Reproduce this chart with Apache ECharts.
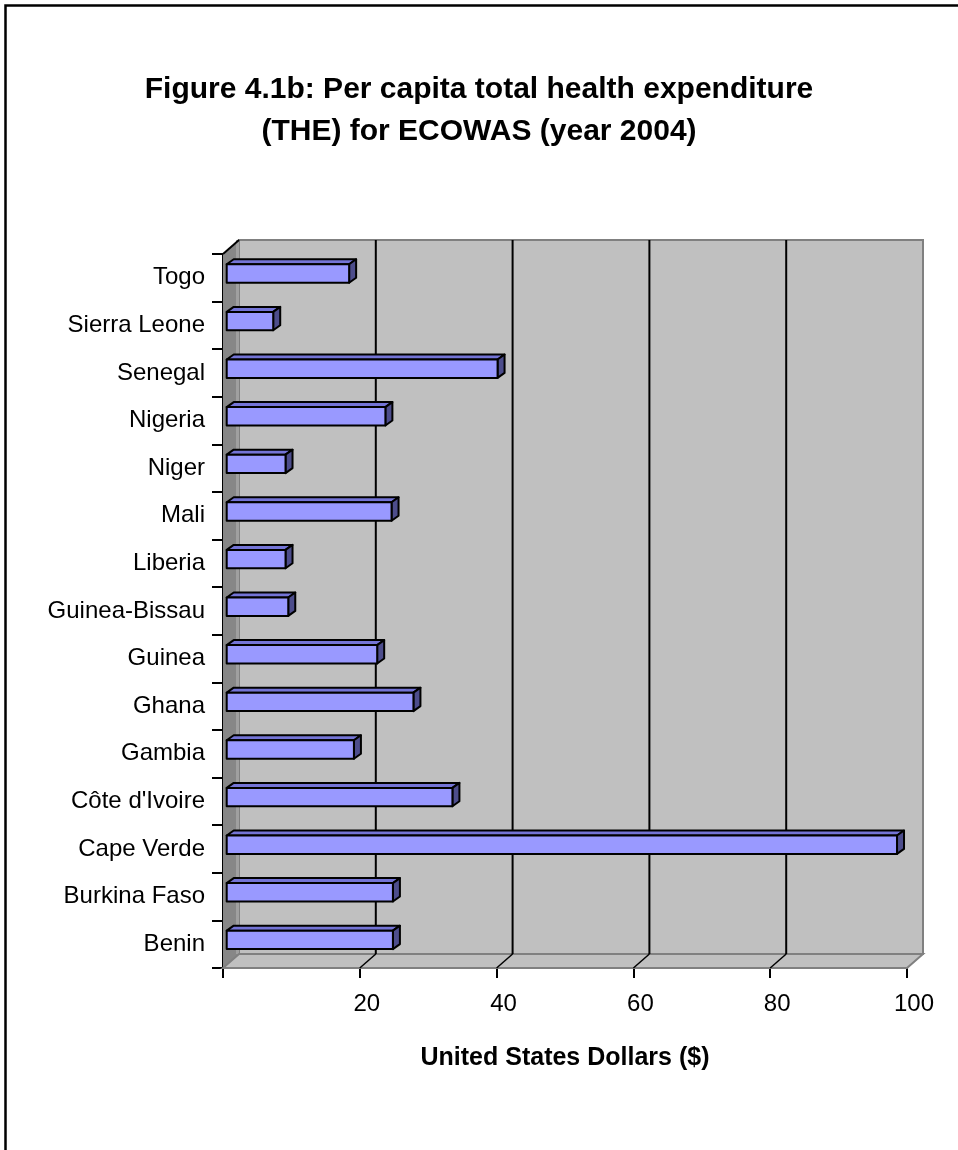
<!DOCTYPE html>
<html>
<head>
<meta charset="utf-8">
<script src="https://cdn.jsdelivr.net/npm/echarts@6/dist/echarts.min.js"></script>
<style>
html,body{margin:0;padding:0;background:#fff;}
#chart{width:958px;height:1150px;}
</style>
</head>
<body>
<div id="chart"></div>
<script>
// Data (bottom to top, as drawn)
const countries = ['Benin','Burkina Faso','Cape Verde',"Côte d'Ivoire",'Gambia','Ghana','Guinea','Guinea-Bissau','Liberia','Mali','Niger','Nigeria','Senegal','Sierra Leone','Togo'];
const theValues = [24.3, 24.3, 98.0, 33.0, 18.6, 27.3, 22.0, 9.0, 8.6, 24.1, 8.6, 23.2, 39.6, 6.8, 17.9];
const xTickValues = [20, 40, 60, 80];
const titleText = 'Figure 4.1b: Per capita total health expenditure\n(THE) for ECOWAS (year 2004)';
const xAxisTitle = 'United States Dollars ($)';

const FONT = '"Liberation Sans", Arial, sans-serif';
const WALL_DX = 16, WALL_DY = -14;
const BAR_DX = 7, BAR_DY = -5;

const chart = echarts.init(document.getElementById('chart'), null, {renderer: 'canvas'});

function renderWalls(params, api) {
  const cs = params.coordSys;
  const x0 = cs.x, x1 = cs.x + cs.width, y0 = cs.y, y1 = cs.y + cs.height;
  const dx = WALL_DX, dy = WALL_DY;
  const children = [];
  children.push({type: 'polygon', shape: {points: [[x0+dx, y0+dy],[x1+dx, y0+dy],[x1+dx, y1+dy],[x0+dx, y1+dy]]},
    style: {fill: '#C0C0C0', stroke: '#808080', lineWidth: 2}});
  children.push({type: 'polygon', shape: {points: [[x0, y0],[x0+dx, y0+dy],[x0+dx, y1+dy],[x0, y1]]},
    style: {fill: '#878787', stroke: null}});
  children.push({type: 'line', shape: {x1: x0+dx-1.5, y1: y0+dy, x2: x0+dx-1.5, y2: y1+dy},
    style: {stroke: '#A0A0A0', lineWidth: 3}});
  children.push({type: 'polygon', shape: {points: [[x0, y1],[x0+dx, y1+dy],[x1+dx, y1+dy],[x1, y1]]},
    style: {fill: '#C0C0C0', stroke: '#808080', lineWidth: 2}});
  children.push({type: 'line', shape: {x1: x0, y1: y0, x2: x0+dx, y2: y0+dy},
    style: {stroke: '#000', lineWidth: 2}});
  xTickValues.forEach(v => {
    const px = api.coord([v, 0])[0];
    children.push({type: 'line', shape: {x1: px+dx, y1: y0+dy, x2: px+dx, y2: y1+dy},
      style: {stroke: '#000', lineWidth: 2}});
    children.push({type: 'line', shape: {x1: px, y1: y1, x2: px+dx, y2: y1+dy},
      style: {stroke: '#000', lineWidth: 1.5}});
  });
  return {type: 'group', children: children};
}

function renderBar(params, api) {
  const v = api.value(0), idx = api.value(1);
  const c0 = api.coord([0, idx]);
  const cv = api.coord([v, idx]);
  const band = api.size([0, 1])[1];
  const shift = 3.7;
  const xl = c0[0] + shift, xr = cv[0] + shift;
  const yt = c0[1] - 0.284 * band, yb = c0[1] + 0.103 * band;
  const dx = BAR_DX, dy = BAR_DY;
  const stroke = {stroke: '#000', lineWidth: 2, lineJoin: 'round'};
  return {type: 'group', children: [
    {type: 'polygon', shape: {points: [[xl, yt],[xl+dx, yt+dy],[xr+dx, yt+dy],[xr, yt]]},
      style: Object.assign({fill: '#7474D6'}, stroke)},
    {type: 'polygon', shape: {points: [[xr, yt],[xr+dx, yt+dy],[xr+dx, yb+dy],[xr, yb]]},
      style: Object.assign({fill: '#4D4D8C'}, stroke)},
    {type: 'rect', shape: {x: xl, y: yt, width: xr - xl, height: yb - yt},
      style: Object.assign({fill: '#9999FF'}, stroke)}
  ]};
}

const option = {
  backgroundColor: '#fff',
  animation: false,
  title: {
    text: titleText,
    left: 'center',
    top: 64,
    textStyle: {fontFamily: FONT, fontSize: 30, fontWeight: 'bold', color: '#000', lineHeight: 42}
  },
  graphic: [{
    type: 'rect', left: 3, top: 3, shape: {x: 0, y: 0, width: 1000, height: 1200},
    style: {fill: null, stroke: '#000', lineWidth: 2.5}, z: 100
  }],
  grid: {left: 223, right: 51, top: 254, bottom: 182, containLabel: false},
  xAxis: {
    type: 'value', min: 0, max: 100, interval: 20,
    name: xAxisTitle, nameLocation: 'middle', nameGap: 78,
    nameTextStyle: {fontFamily: FONT, fontSize: 25, fontWeight: 'bold', color: '#000'},
    axisLine: {show: true, lineStyle: {color: '#000', width: 2}},
    axisTick: {show: true, inside: false, length: 10, lineStyle: {color: '#000', width: 2}},
    axisLabel: {fontFamily: FONT, fontSize: 24, color: '#000', margin: 24, padding: [0, 0, 0, 14],
      formatter: v => (v === 0 ? '' : String(v))},
    splitLine: {show: false}
  },
  yAxis: {
    type: 'category', data: countries, boundaryGap: true,
    axisLine: {show: true, lineStyle: {color: '#000', width: 2}},
    axisTick: {show: true, inside: false, length: 11, lineStyle: {color: '#000', width: 2}},
    axisLabel: {fontFamily: FONT, fontSize: 24, color: '#000', margin: 18},
    splitLine: {show: false}
  },
  series: [
    {type: 'custom', z: 1, renderItem: renderWalls, data: [[0, 0]], encode: {x: 0, y: 1}, silent: true, clip: false},
    {type: 'custom', z: 5, renderItem: renderBar,
      data: theValues.map((v, i) => [v, i]), encode: {x: 0, y: 1}, clip: false}
  ]
};
chart.setOption(option);
</script>
</body>
</html>
